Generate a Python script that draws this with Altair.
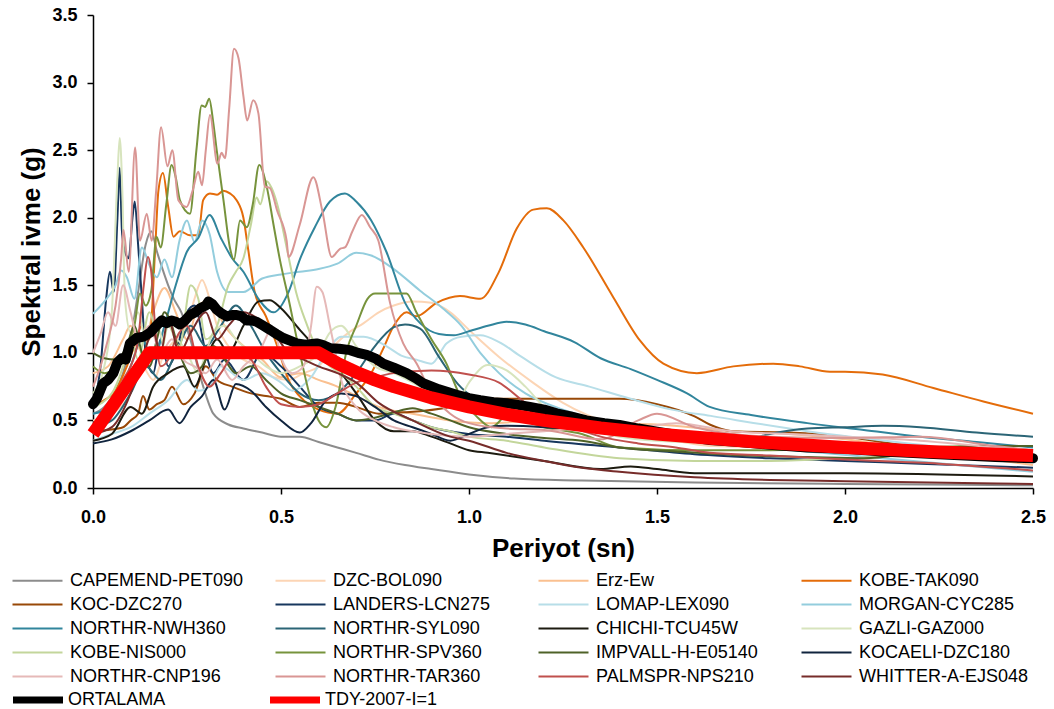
import altair as alt
import pandas as pd

X_TICKS = [0.0, 0.5, 1.0, 1.5, 2.0, 2.5]
Y_TICKS = [0.0, 0.5, 1.0, 1.5, 2.0, 2.5, 3.0, 3.5]

NAMES = ["CAPEMEND-PET090", "DZC-BOL090", "Erz-Ew", "KOBE-TAK090",
         "KOC-DZC270", "LANDERS-LCN275", "LOMAP-LEX090", "MORGAN-CYC285",
         "NORTHR-NWH360", "NORTHR-SYL090", "CHICHI-TCU45W", "GAZLI-GAZ000",
         "KOBE-NIS000", "NORTHR-SPV360", "IMPVALL-H-E05140", "KOCAELI-DZC180",
         "NORTHR-CNP196", "NORTHR-TAR360", "PALMSPR-NPS210", "WHITTER-A-EJS048"]
COLORS = ["#8c8c8c", "#fcd5b5", "#fac090", "#e46c0a",
          "#984807", "#17375e", "#b7dee8", "#93cddd",
          "#31859c", "#2b6576", "#1d1b10", "#d7e4bd",
          "#c3d69b", "#77933c", "#4f6228", "#10243e",
          "#e6b9b8", "#d99694", "#c0504d", "#772c2a"]

# (period s, spectral acceleration g)
CAPEMEND_PET090 = [(0,0.55),(0.03,0.6),(0.06,0.72),(0.08,0.85),(0.1,1.1),(0.12,1.45),(0.14,1.8),(0.155,1.9),(0.17,1.75),(0.185,1.62),(0.2,1.5),(0.215,1.4),(0.235,1.3),(0.26,1.09),(0.29,0.78),(0.32,0.55),(0.36,0.47),(0.4,0.44),(0.45,0.41),(0.5,0.38),(0.55,0.38),(0.6,0.34),(0.65,0.3),(0.7,0.26),(0.76,0.21),(0.83,0.17),(0.9,0.14),(1.0,0.1),(1.12,0.07),(1.3,0.055),(1.6,0.04),(2.0,0.03),(2.5,0.02)]
DZC_BOL090 = [(0,0.5),(0.05,0.55),(0.1,0.7),(0.13,0.9),(0.16,0.8),(0.19,1.0),(0.22,1.1),(0.25,1.2),(0.27,1.4),(0.29,1.54),(0.31,1.4),(0.33,1.2),(0.36,1.05),(0.4,0.95),(0.44,0.9),(0.48,0.82),(0.52,0.8),(0.56,0.85),(0.6,0.9),(0.64,1.05),(0.68,1.15),(0.72,1.22),(0.76,1.3),(0.8,1.35),(0.85,1.38),(0.9,1.37),(0.95,1.3),(1.0,1.17),(1.08,0.97),(1.17,0.78),(1.25,0.63),(1.4,0.45),(1.53,0.36),(1.65,0.31),(1.8,0.3),(2.0,0.28),(2.2,0.27),(2.5,0.25)]
ERZ_EW = [(0,0.85),(0.04,0.9),(0.08,1.1),(0.1,1.2),(0.13,1.0),(0.16,1.3),(0.19,1.48),(0.22,1.3),(0.25,1.1),(0.28,1.35),(0.31,1.39),(0.35,1.2),(0.4,1.05),(0.45,0.95),(0.5,0.82),(0.55,0.85),(0.6,0.8),(0.65,0.75),(0.7,0.68),(0.76,0.6),(0.85,0.55),(0.95,0.5),(1.05,0.48),(1.2,0.5),(1.35,0.48),(1.5,0.47),(1.7,0.42),(1.85,0.4),(2.0,0.36),(2.2,0.28),(2.5,0.17)]
KOBE_TAK090 = [(0,0.6),(0.03,0.65),(0.06,0.72),(0.09,0.9),(0.11,1.05),(0.13,1.2),(0.15,1.1),(0.165,1.75),(0.174,2.2),(0.186,2.33),(0.2,2.08),(0.214,1.86),(0.231,1.9),(0.258,1.87),(0.28,1.87),(0.293,2.13),(0.311,2.18),(0.33,2.17),(0.347,2.2),(0.364,2.18),(0.382,2.13),(0.4,2.0),(0.413,1.76),(0.43,1.45),(0.46,1.27),(0.49,1.05),(0.52,0.8),(0.56,0.65),(0.6,0.58),(0.65,0.55),(0.7,0.7),(0.74,0.85),(0.77,1.02),(0.8,1.2),(0.834,1.3),(0.86,1.27),(0.914,1.37),(0.976,1.42),(1.03,1.4),(1.078,1.59),(1.127,1.92),(1.171,2.06),(1.207,2.07),(1.251,1.98),(1.304,1.78),(1.384,1.41),(1.455,1.09),(1.517,0.92),(1.606,0.85),(1.703,0.9),(1.809,0.92),(1.88,0.9),(1.96,0.86),(2.0,0.86),(2.1,0.84),(2.235,0.74),(2.368,0.64),(2.5,0.55)]
KOC_DZC270 = [(0,0.42),(0.04,0.43),(0.08,0.45),(0.1,0.5),(0.12,0.55),(0.133,0.68),(0.15,0.58),(0.17,0.62),(0.19,0.65),(0.21,0.75),(0.24,0.62),(0.27,0.7),(0.3,0.9),(0.33,0.8),(0.37,0.75),(0.42,0.7),(0.46,0.68),(0.5,0.66),(0.55,0.6),(0.6,0.63),(0.65,0.63),(0.7,0.6),(0.76,0.55),(0.83,0.56),(0.95,0.6),(1.03,0.66),(1.15,0.66),(1.3,0.66),(1.4,0.66),(1.5,0.62),(1.6,0.53),(1.64,0.47),(1.7,0.42),(1.85,0.41),(2.0,0.38),(2.15,0.32),(2.3,0.28),(2.5,0.23)]
LANDERS_LCN275 = [(0,0.6),(0.02,0.9),(0.035,1.4),(0.045,1.6),(0.055,1.45),(0.065,2.0),(0.071,2.37),(0.077,1.9),(0.084,1.76),(0.095,1.7),(0.105,2.0),(0.111,2.12),(0.12,1.8),(0.13,1.4),(0.14,1.0),(0.16,0.85),(0.18,1.1),(0.2,0.9),(0.22,1.0),(0.25,1.3),(0.27,1.35),(0.3,1.0),(0.32,0.85),(0.35,0.95),(0.4,0.8),(0.45,1.0),(0.5,0.9),(0.55,0.75),(0.6,0.6),(0.65,0.55),(0.7,0.5),(0.75,0.5),(0.8,0.55),(0.85,0.5),(0.9,0.45),(1.0,0.4),(1.1,0.38),(1.2,0.35),(1.4,0.3),(1.6,0.25),(1.8,0.22),(2.0,0.2),(2.2,0.18),(2.5,0.15)]
LOMAP_LEX090 = [(0,0.35),(0.05,0.4),(0.1,0.45),(0.15,0.55),(0.2,0.65),(0.25,0.8),(0.28,0.72),(0.31,0.75),(0.34,0.9),(0.4,0.8),(0.45,0.85),(0.5,0.78),(0.53,0.72),(0.58,0.82),(0.62,1.0),(0.66,1.12),(0.72,1.12),(0.78,1.05),(0.82,0.98),(0.86,0.95),(0.9,0.92),(0.94,1.07),(0.98,1.12),(1.03,1.13),(1.08,1.08),(1.14,0.97),(1.23,0.82),(1.32,0.75),(1.43,0.66),(1.54,0.58),(1.65,0.53),(1.9,0.42),(2.2,0.32),(2.5,0.22)]
MORGAN_CYC285 = [(0,1.29),(0.03,1.38),(0.06,1.5),(0.075,1.61),(0.09,1.56),(0.11,1.4),(0.13,1.78),(0.15,1.65),(0.17,1.56),(0.19,1.69),(0.21,1.56),(0.23,1.83),(0.25,1.98),(0.27,1.82),(0.29,1.98),(0.31,1.88),(0.33,1.6),(0.36,1.45),(0.4,1.45),(0.45,1.55),(0.5,1.58),(0.55,1.6),(0.6,1.62),(0.65,1.66),(0.7,1.74),(0.74,1.72),(0.8,1.62),(0.87,1.46),(0.93,1.33),(0.98,1.2),(1.03,1.0),(1.08,0.85),(1.15,0.7),(1.25,0.58),(1.35,0.5),(1.5,0.42),(1.7,0.33),(1.9,0.27),(2.1,0.22),(2.3,0.17),(2.5,0.12)]
NORTHR_NWH360 = [(0,0.55),(0.05,0.6),(0.1,0.9),(0.13,1.1),(0.16,0.95),(0.19,1.2),(0.22,1.5),(0.25,1.75),(0.28,1.85),(0.31,2.02),(0.34,1.85),(0.37,1.7),(0.4,1.6),(0.44,1.4),(0.48,1.3),(0.52,1.45),(0.55,1.69),(0.59,1.93),(0.63,2.12),(0.67,2.18),(0.7,2.12),(0.74,1.98),(0.78,1.75),(0.83,1.37),(0.87,1.22),(0.92,1.14),(0.96,1.13),(1.0,1.16),(1.05,1.2),(1.1,1.23),(1.15,1.21),(1.2,1.16),(1.28,1.08),(1.35,0.96),(1.43,0.88),(1.5,0.8),(1.58,0.7),(1.64,0.6),(1.75,0.54),(1.9,0.48),(2.05,0.43),(2.2,0.38),(2.35,0.34),(2.5,0.3)]
NORTHR_SYL090 = [(0,0.45),(0.05,0.5),(0.1,0.7),(0.14,0.9),(0.18,0.8),(0.22,1.0),(0.26,1.2),(0.3,1.05),(0.34,1.2),(0.38,1.35),(0.42,1.2),(0.46,1.0),(0.5,0.85),(0.55,0.7),(0.6,0.65),(0.65,0.7),(0.7,0.85),(0.75,1.05),(0.8,1.19),(0.83,1.21),(0.87,1.18),(0.92,0.97),(0.97,0.77),(1.02,0.65),(1.1,0.55),(1.2,0.5),(1.3,0.45),(1.45,0.4),(1.6,0.36),(1.7,0.33),(1.8,0.4),(1.9,0.44),(2.0,0.45),(2.1,0.46),(2.2,0.45),(2.35,0.41),(2.5,0.38)]
CHICHI_TCU45W = [(0,0.35),(0.05,0.4),(0.1,0.6),(0.13,0.55),(0.16,0.75),(0.2,0.85),(0.24,0.9),(0.27,0.75),(0.3,0.95),(0.33,1.1),(0.36,1.0),(0.4,1.2),(0.44,1.38),(0.47,1.39),(0.5,1.33),(0.55,1.17),(0.6,1.02),(0.66,0.85),(0.7,0.7),(0.75,0.5),(0.8,0.42),(0.85,0.42),(0.9,0.38),(0.95,0.33),(1.0,0.28),(1.05,0.26),(1.2,0.2),(1.35,0.14),(1.43,0.16),(1.5,0.14),(1.6,0.11),(2.0,0.11),(2.5,0.085)]
GAZLI_GAZ000 = [(0,0.7),(0.03,0.9),(0.05,1.3),(0.065,2.3),(0.071,2.59),(0.078,2.2),(0.085,1.4),(0.1,1.15),(0.12,1.3),(0.14,1.1),(0.17,1.2),(0.2,0.95),(0.22,1.1),(0.25,1.0),(0.28,0.85),(0.3,1.0),(0.32,1.15),(0.35,1.2),(0.38,1.1),(0.42,1.0),(0.46,0.9),(0.5,0.85),(0.55,0.9),(0.6,1.0),(0.63,1.15),(0.66,1.2),(0.7,1.05),(0.75,0.9),(0.8,0.85),(0.9,0.7),(0.96,0.6),(1.0,0.78),(1.05,0.91),(1.1,0.87),(1.15,0.75),(1.2,0.6),(1.3,0.45),(1.4,0.38),(1.5,0.35),(1.7,0.33),(1.9,0.3),(2.1,0.28),(2.3,0.27),(2.5,0.25)]
KOBE_NIS000 = [(0,0.6),(0.05,0.7),(0.08,0.9),(0.1,1.1),(0.12,0.95),(0.15,1.3),(0.18,1.0),(0.2,1.2),(0.23,1.05),(0.26,1.5),(0.28,1.4),(0.3,1.1),(0.33,1.2),(0.36,1.5),(0.38,1.6),(0.4,1.7),(0.42,1.95),(0.435,2.15),(0.445,2.1),(0.462,2.27),(0.475,2.22),(0.49,2.1),(0.515,1.78),(0.54,1.45),(0.57,1.2),(0.6,1.0),(0.63,0.9),(0.66,0.85),(0.7,0.75),(0.75,0.6),(0.8,0.55),(0.85,0.5),(0.9,0.45),(0.95,0.42),(1.0,0.38),(1.1,0.35),(1.2,0.3),(1.4,0.22),(1.6,0.2),(1.8,0.2),(2.0,0.22),(2.2,0.24),(2.5,0.2)]
NORTHR_SPV360 = [(0,0.9),(0.03,0.85),(0.06,0.9),(0.09,1.05),(0.11,1.2),(0.125,1.44),(0.14,1.35),(0.155,1.46),(0.169,1.86),(0.18,1.78),(0.195,2.1),(0.209,2.39),(0.22,2.3),(0.231,2.13),(0.258,2.03),(0.275,2.5),(0.289,2.83),(0.298,2.82),(0.309,2.88),(0.32,2.7),(0.329,2.5),(0.347,2.13),(0.364,1.78),(0.375,1.69),(0.391,1.98),(0.409,1.93),(0.425,2.1),(0.442,2.39),(0.462,2.23),(0.48,1.95),(0.497,1.69),(0.52,1.4),(0.55,1.0),(0.58,0.65),(0.6,0.5),(0.62,0.45),(0.645,0.6),(0.675,1.02),(0.7,1.2),(0.73,1.4),(0.75,1.44),(0.8,1.44),(0.834,1.44),(0.86,1.3),(0.9,1.1),(0.94,0.92),(0.97,0.72),(1.02,0.53),(1.06,0.45),(1.1,0.53),(1.2,0.45),(1.3,0.4),(1.4,0.3),(1.6,0.28),(1.8,0.28),(2.0,0.29),(2.2,0.3),(2.35,0.31),(2.5,0.31)]
IMPVALL_H_E05140 = [(0,1.0),(0.03,0.96),(0.06,0.95),(0.09,1.05),(0.11,1.2),(0.13,1.0),(0.15,0.9),(0.17,1.1),(0.19,1.3),(0.21,1.2),(0.23,1.0),(0.26,0.85),(0.29,0.9),(0.32,1.05),(0.35,0.95),(0.38,0.85),(0.42,0.9),(0.46,0.8),(0.5,0.7),(0.55,0.65),(0.6,0.6),(0.65,0.55),(0.7,0.5),(0.75,0.52),(0.8,0.56),(0.85,0.59),(0.9,0.55),(0.95,0.5),(1.0,0.45),(1.1,0.4),(1.2,0.37),(1.3,0.35),(1.4,0.3),(1.55,0.27),(1.7,0.245),(1.9,0.23),(2.05,0.22),(2.2,0.27),(2.35,0.31),(2.5,0.31)]
KOCAELI_DZC180 = [(0,0.33),(0.05,0.36),(0.1,0.42),(0.15,0.5),(0.2,0.58),(0.23,0.48),(0.26,0.6),(0.29,0.68),(0.32,0.8),(0.35,0.58),(0.38,0.77),(0.42,0.72),(0.46,0.6),(0.5,0.5),(0.55,0.41),(0.58,0.48),(0.62,0.65),(0.66,0.7),(0.7,0.68),(0.75,0.6),(0.8,0.5),(0.85,0.45),(0.9,0.4),(0.95,0.35),(1.0,0.4),(1.05,0.45),(1.1,0.46),(1.2,0.45),(1.3,0.43),(1.4,0.4),(1.5,0.37),(1.6,0.35),(1.8,0.3),(1.9,0.28),(2.0,0.3),(2.2,0.3),(2.5,0.28)]
NORTHR_CNP196 = [(0,1.0),(0.02,1.14),(0.04,1.3),(0.06,1.2),(0.08,1.5),(0.1,1.3),(0.12,1.1),(0.15,1.2),(0.18,1.0),(0.21,1.1),(0.24,0.95),(0.27,0.9),(0.3,0.85),(0.33,0.95),(0.37,0.8),(0.4,0.9),(0.44,1.0),(0.48,1.19),(0.5,0.97),(0.53,0.85),(0.56,0.9),(0.58,1.2),(0.595,1.49),(0.61,1.45),(0.63,1.2),(0.645,1.0),(0.66,0.8),(0.7,0.6),(0.75,0.5),(0.8,0.45),(0.85,0.42),(0.9,0.4),(1.0,0.38),(1.1,0.4),(1.2,0.42),(1.3,0.44),(1.45,0.45),(1.55,0.48),(1.7,0.42),(1.85,0.4),(2.0,0.38),(2.2,0.35),(2.4,0.3),(2.5,0.28)]
NORTHR_TAR360 = [(0,0.75),(0.02,0.9),(0.04,1.1),(0.06,1.35),(0.075,1.7),(0.081,1.91),(0.095,1.6),(0.112,2.52),(0.125,1.83),(0.143,2.03),(0.156,1.83),(0.168,2.2),(0.181,2.67),(0.198,2.38),(0.211,2.5),(0.227,2.13),(0.249,2.08),(0.265,2.2),(0.28,2.34),(0.29,2.24),(0.3,2.5),(0.311,2.76),(0.331,2.4),(0.342,2.48),(0.351,2.44),(0.362,2.8),(0.375,3.25),(0.387,3.18),(0.4,2.9),(0.41,2.72),(0.426,2.87),(0.44,2.77),(0.457,2.23),(0.47,2.22),(0.49,2.05),(0.515,1.83),(0.52,1.71),(0.55,1.95),(0.586,2.3),(0.61,2.05),(0.635,1.71),(0.657,1.77),(0.67,1.78),(0.69,1.9),(0.715,2.02),(0.737,1.93),(0.759,1.83),(0.79,1.37),(0.825,1.07),(0.861,0.92),(0.9,0.7),(0.95,0.55),(1.0,0.48),(1.1,0.44),(1.2,0.43),(1.35,0.36),(1.45,0.5),(1.5,0.55),(1.6,0.45),(1.8,0.38),(2.0,0.37),(2.2,0.38),(2.4,0.31),(2.5,0.28)]
PALMSPR_NPS210 = [(0,0.45),(0.04,0.5),(0.08,0.8),(0.1,0.9),(0.12,1.1),(0.135,1.5),(0.146,1.71),(0.155,1.6),(0.165,1.2),(0.18,0.9),(0.2,0.95),(0.22,1.1),(0.25,1.2),(0.28,0.9),(0.31,0.75),(0.34,0.85),(0.38,1.0),(0.42,0.95),(0.46,0.75),(0.5,0.62),(0.55,0.6),(0.6,0.62),(0.65,0.7),(0.7,0.78),(0.75,0.82),(0.8,0.85),(0.9,0.87),(1.0,0.84),(1.08,0.78),(1.15,0.63),(1.25,0.48),(1.35,0.38),(1.45,0.33),(1.55,0.3),(1.64,0.26),(1.8,0.24),(2.0,0.21),(2.25,0.18),(2.5,0.13)]
WHITTER_A_EJS048 = [(0,0.4),(0.05,0.45),(0.1,0.7),(0.13,0.95),(0.16,1.15),(0.18,1.0),(0.2,1.25),(0.23,1.0),(0.26,1.15),(0.3,1.3),(0.33,1.1),(0.36,1.2),(0.4,1.3),(0.44,1.25),(0.48,1.15),(0.52,1.0),(0.56,0.95),(0.6,0.9),(0.65,0.85),(0.7,0.78),(0.76,0.63),(0.85,0.5),(0.95,0.38),(1.0,0.35),(1.1,0.26),(1.2,0.2),(1.3,0.15),(1.4,0.12),(1.6,0.08),(1.8,0.06),(2.0,0.05),(2.5,0.03)]

ORTALAMA = [(0,0.62),(0.01,0.66),(0.027,0.775),(0.04,0.8),(0.054,0.85),(0.065,0.93),(0.076,0.96),(0.087,0.95),(0.098,1.07),(0.116,1.11),(0.135,1.12),(0.152,1.15),(0.168,1.2),(0.183,1.24),(0.196,1.22),(0.209,1.24),(0.22,1.23),(0.231,1.21),(0.245,1.24),(0.258,1.28),(0.272,1.3),(0.285,1.33),(0.3,1.35),(0.307,1.38),(0.318,1.36),(0.329,1.32),(0.343,1.29),(0.356,1.27),(0.37,1.28),(0.382,1.28),(0.395,1.27),(0.409,1.24),(0.422,1.24),(0.435,1.23),(0.453,1.2),(0.471,1.17),(0.488,1.14),(0.506,1.11),(0.524,1.09),(0.542,1.07),(0.565,1.06),(0.595,1.07),(0.61,1.06),(0.63,1.035),(0.655,1.03),(0.684,1.02),(0.705,1.0),(0.728,0.985),(0.75,0.96),(0.772,0.92),(0.8,0.89),(0.834,0.85),(0.86,0.81),(0.878,0.775),(0.92,0.73),(0.967,0.69),(1.0,0.665),(1.03,0.65),(1.065,0.635),(1.1,0.627),(1.13,0.615),(1.162,0.6),(1.2,0.58),(1.233,0.553),(1.27,0.53),(1.312,0.5),(1.36,0.48),(1.4,0.467),(1.45,0.44),(1.5,0.417),(1.57,0.385),(1.64,0.355),(1.72,0.34),(1.8,0.32),(1.9,0.3),(2.0,0.29),(2.1,0.27),(2.25,0.25),(2.4,0.23),(2.5,0.22)]
TDY_2007 = [(0,0.4),(0.15,1.0),(0.6,1.0),(0.65,0.923),(0.7,0.857),(0.75,0.8),(0.8,0.75),(0.9,0.667),(1.0,0.6),(1.1,0.545),(1.2,0.5),(1.35,0.444),(1.5,0.4),(1.75,0.343),(2.0,0.3),(2.25,0.267),(2.5,0.24)]

RECORDS = [CAPEMEND_PET090, DZC_BOL090, ERZ_EW, KOBE_TAK090, KOC_DZC270,
           LANDERS_LCN275, LOMAP_LEX090, MORGAN_CYC285, NORTHR_NWH360,
           NORTHR_SYL090, CHICHI_TCU45W, GAZLI_GAZ000, KOBE_NIS000,
           NORTHR_SPV360, IMPVALL_H_E05140, KOCAELI_DZC180, NORTHR_CNP196,
           NORTHR_TAR360, PALMSPR_NPS210, WHITTER_A_EJS048]

THICK_NAMES = ["ORTALAMA", "TDY-2007-I=1"]
THICK_COLORS = ["#000000", "#ff0000"]

rows = []
for name, pts in zip(NAMES, RECORDS):
    for t, v in pts:
        rows.append({"name": name, "T": t, "V": v})
rec_df = pd.DataFrame(rows)

trows = []
for name, pts in zip(THICK_NAMES, [ORTALAMA, TDY_2007]):
    for t, v in pts:
        trows.append({"name": name, "T": t, "V": v})
thick_df = pd.DataFrame(trows)

FONT = "Liberation Sans"
LINE_SYMBOL = "M-2,0H2"

x_enc = alt.X("T:Q", scale=alt.Scale(domain=[0, 2.5], nice=False, zero=False),
              axis=alt.Axis(values=X_TICKS, format=".1f", title="Periyot (sn)",
                            titleFont=FONT, titleFontSize=26, titleFontWeight="bold",
                            titleColor="#000000", titlePadding=9,
                            labelFont=FONT, labelFontSize=18, labelFontWeight="bold",
                            labelColor="#000000", labelPadding=14, labelFlush=False,
                            grid=False, domainColor="#000000", domainWidth=1.5,
                            tickColor="#000000", tickWidth=1.5, tickSize=6))
y_enc = alt.Y("V:Q", scale=alt.Scale(domain=[0, 3.5], nice=False),
              axis=alt.Axis(values=Y_TICKS, format=".1f", title="Spektral ivme (g)",
                            titleFont=FONT, titleFontSize=26, titleFontWeight="bold",
                            titleColor="#000000", titlePadding=7,
                            labelFont=FONT, labelFontSize=18, labelFontWeight="bold",
                            labelColor="#000000", labelPadding=10, labelFlush=False,
                            grid=False, domainColor="#000000", domainWidth=1.5,
                            tickColor="#000000", tickWidth=1.5, tickSize=6))

records = alt.Chart(rec_df).mark_line(strokeWidth=2, interpolate="monotone").encode(
    x=x_enc, y=y_enc,
    color=alt.Color("name:N", scale=alt.Scale(domain=NAMES, range=COLORS),
                    legend=alt.Legend(orient="none", legendX=-69, legendY=552,
                                      direction="horizontal",
                                      columns=4, gridAlign="all", columnPadding=27,
                                      rowPadding=1, padding=0, title=None,
                                      symbolType=LINE_SYMBOL, symbolSize=625,
                                      symbolStrokeWidth=2, labelFont=FONT,
                                      labelFontSize=18, labelColor="#000000",
                                      labelOffset=19, labelLimit=300)),
)

thick_legend = alt.Legend(orient="none", legendX=-71, legendY=669,
                          direction="horizontal",
                          columns=2, gridAlign="all", columnPadding=76,
                          padding=0, title=None, symbolType=LINE_SYMBOL,
                          symbolSize=625, symbolStrokeWidth=7, labelFont=FONT,
                          labelFontSize=18, labelColor="#000000",
                          labelOffset=14, labelLimit=300)
stroke_enc = alt.Stroke("name:N", scale=alt.Scale(domain=THICK_NAMES, range=THICK_COLORS),
                        legend=thick_legend)

avg = alt.Chart(thick_df).transform_filter(alt.datum.name == "ORTALAMA").mark_line(
    strokeWidth=10, strokeJoin="round", strokeCap="round").encode(
    x=x_enc, y=y_enc, stroke=stroke_enc)
tdy = alt.Chart(thick_df).transform_filter(alt.datum.name == "TDY-2007-I=1").mark_line(
    strokeWidth=13, strokeJoin="round").encode(
    x=x_enc, y=y_enc, stroke=stroke_enc)

chart = alt.layer(records, avg, tdy).properties(
    width=940, height=473,
    padding={"left": 93, "top": 15, "right": 21, "bottom": 221},
    autosize=alt.AutoSizeParams(type="none"),
    background="#ffffff",
).configure_view(strokeWidth=0)

chart.save("out.html", embed_options={"renderer": "svg", "actions": False})
